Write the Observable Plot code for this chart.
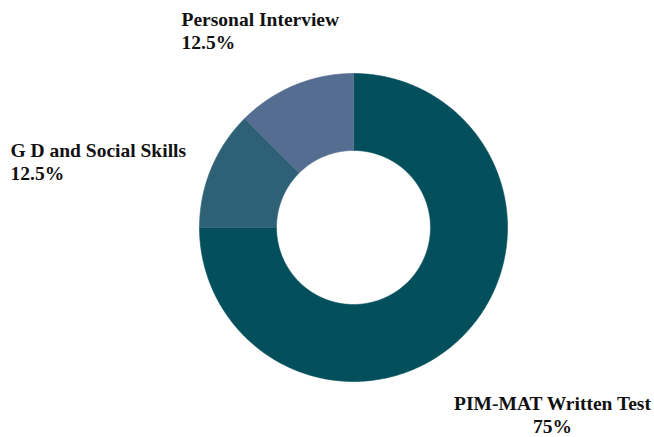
<!DOCTYPE html>
<html>
<head>
<meta charset="utf-8">
<script src="https://cdn.jsdelivr.net/npm/d3@7"></script>
<script src="https://cdn.jsdelivr.net/npm/@observablehq/plot@0.6"></script>
<style>
  html, body { margin: 0; padding: 0; background: #fff; }
  #chart svg { display: block; }
</style>
</head>
<body>
<div id="chart"></div>
<script>
// ---- data ----
const categories = ["PIM-MAT Written Test", "G D and Social Skills", "Personal Interview"];
const shares = [75, 12.5, 12.5];
const shareLabels = ["75%", "12.5%", "12.5%"];
const colors = ["#034f5b", "#2e6176", "#556d91"];

// ---- geometry (unit circle, data space) ----
const outerR = 1, innerR = 0.5;
const pie = d3.pie().sort(null).value(d => d.value).startAngle(0).endAngle(2 * Math.PI);
const slices = pie(categories.map((c, i) => ({ key: c, value: shares[i] })));
const pts = [];
for (const s of slices) {
  const n = Math.max(8, Math.ceil((s.endAngle - s.startAngle) / 0.01));
  for (let k = 0; k <= n; k++) {
    const a = s.startAngle + (s.endAngle - s.startAngle) * k / n;
    pts.push({ key: s.data.key, x: outerR * Math.sin(a), y: outerR * Math.cos(a) });
  }
  for (let k = n; k >= 0; k--) {
    const a = s.startAngle + (s.endAngle - s.startAngle) * k / n;
    pts.push({ key: s.data.key, x: innerR * Math.sin(a), y: innerR * Math.cos(a) });
  }
}

const W = 654, H = 437, R = 154, cx = 353, cy = 227;
const font = "'Liberation Serif', 'Times New Roman', serif";

const label = (i) => categories[i] + "\n" + shareLabels[i];
const textOpts = { text: d => d, lineAnchor: "top", fontSize: 19.5, fontWeight: "bold", fill: "#111", lineHeight: 1.18, fontFamily: font, frameAnchor: "top-left" };

const chart = Plot.plot({
  width: W, height: H,
  margin: 0,
  style: { background: "#fff" },
  x: { domain: [-cx / R, (W - cx) / R], axis: null },
  y: { domain: [-(H - cy) / R, cy / R], axis: null },
  color: { domain: categories, range: colors },
  marks: [
    Plot.line(pts, { x: "x", y: "y", z: "key", fill: "key", stroke: "key", strokeWidth: 0.6, curve: "linear" }),
    Plot.text([label(2)], { ...textOpts, dx: 181, dy: 9, textAnchor: "start" }),
    Plot.text([label(1)], { ...textOpts, dx: 10, dy: 140, textAnchor: "start" }),
    Plot.text([label(0)], { ...textOpts, dx: 552, dy: 393, textAnchor: "middle" })
  ]
});
document.getElementById("chart").appendChild(chart);
</script>
</body>
</html>
